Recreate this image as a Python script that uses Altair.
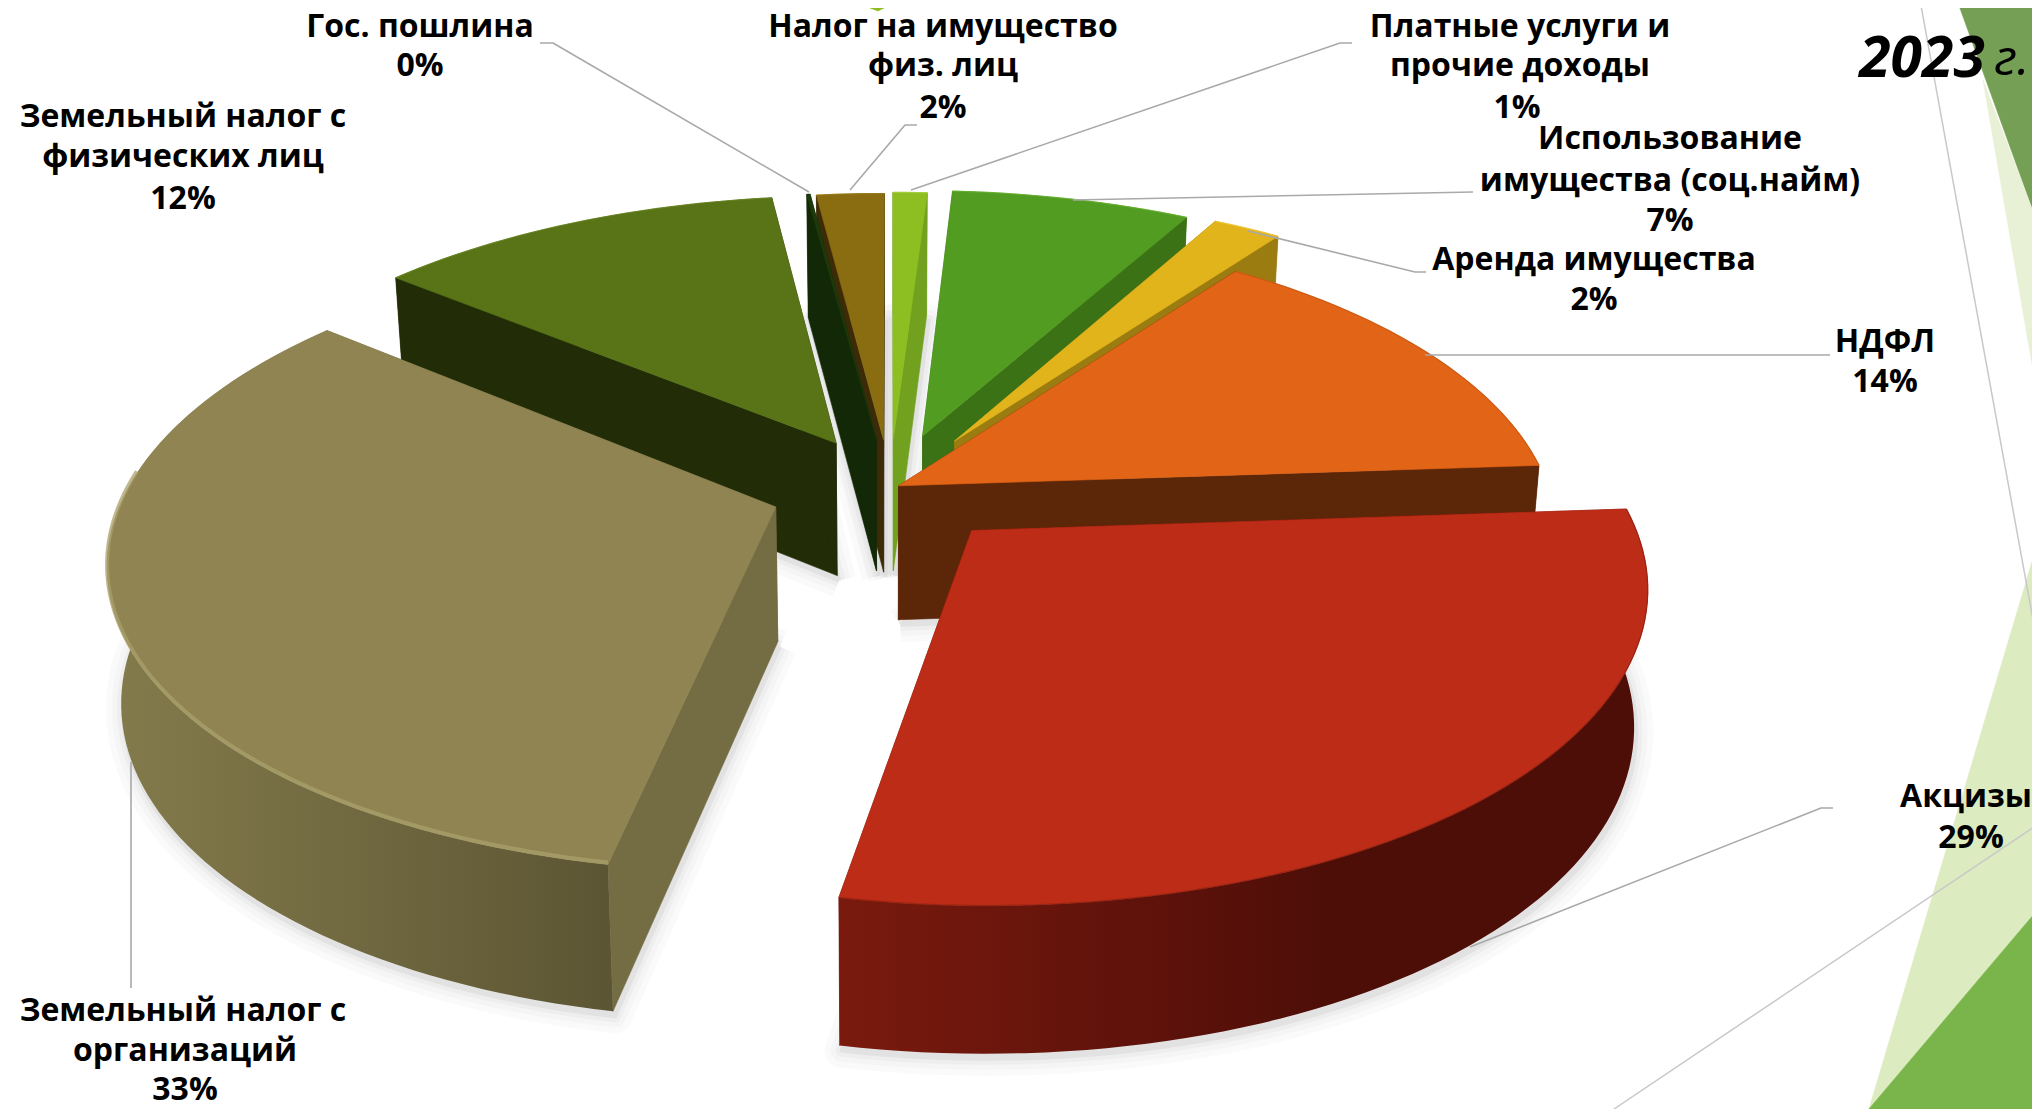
import math
import altair as alt
import pandas as pd

# ---------- chart values (clockwise from the top of the pie) ----------
categories = ["Платные услуги и прочие доходы", "Использование имущества (соц.найм)", "Аренда имущества",
              "НДФЛ", "Акцизы", "Земельный налог с организаций", "Земельный налог с физических лиц",
              "Гос. пошлина", "Налог на имущество физ. лиц"]
values = [1.0, 7, 2, 13.9, 29.1, 32.97, 11.95, 0.1, 1.98]
explode = [0.17, 0.185, 0.19, 0.015, 0.185, 0.185, 0.175, 0.17, 0.165]
top_colors = ["#8dbf22", "#529c22", "#e2b41b", "#e26417", "#bd2c16", "#8f8452", "#597317", "#1d3a0b", "#8a6d10"]
wall_colors = ["#72a11f", "#3a7215", "#9a7c10", "#5c2608", "#6a1509", "#746c43", "#222d08", "#132807", "#3d2a07"]
rim_left = ["#72a11f", "#3a7215", "#9a7c10", "#5c2608", "#7a1a0e", "#847b4c", "#222d08", "#132807", "#3d2a07"]
rim_right = ["#72a11f", "#3a7215", "#9a7c10", "#5c2608", "#4e0e08", "#5c5533", "#222d08", "#132807", "#3d2a07"]
bevel_colors = ["#a5d23c", "#65b02e", "#f0c838", "#c85a14", "#8e2010", "#aaa06c", "#6a8622", "#1d3a0b", "#9a7c18"]

# ---------- text ----------
label_text = ["Гос. пошлина", "0%",
              "Налог на имущество", "физ. лиц", "2%",
              "Платные услуги и", "прочие доходы", "1%",
              "Использование", "имущества (соц.найм)", "7%",
              "Аренда имущества", "2%",
              "НДФЛ", "14%",
              "Акцизы", "29%",
              "Земельный налог с", "организаций", "33%",
              "Земельный налог с", "физических лиц", "12%"]
label_x = [420, 420, 943, 943, 943, 1520, 1520, 1517, 1670, 1670, 1670, 1594, 1594,
           1885, 1885, 1966, 1971, 183, 185, 185, 183, 183, 183]
label_y = [27, 66, 27, 66, 108, 27, 66, 108, 139, 181, 221, 260, 300, 342, 382, 797, 838,
           1011, 1051, 1090, 117, 157, 199]

leaders = [[(809, 192), (553, 43), (540, 43)],
           [(850, 190), (905, 125), (917, 125)],
           [(911, 190), (1340, 43), (1352, 43)],
           [(1073, 200), (1473, 192)],
           [(1248, 231), (1415, 272), (1426, 272)],
           [(1425, 355), (1830, 355)],
           [(1470, 947), (1821, 808), (1833, 808)],
           [(131, 762), (131, 988)]]

backdrop = [("#759f55", [(1957, 0), (2040, 230), (2040, 0)]),
            ("#e8f0d5", [(1983, 80), (2040, 410), (2040, 230)]),
            ("#dcebc0", [(2040, 535), (1869, 1109), (2040, 1109)]),
            ("#7ab54c", [(2040, 907), (1869, 1109), (2040, 1109)]),
            ("#8fbd1f", [(870, 8), (884, 8), (878, 11)])]
backdrop_lines = [[(1920, 0), (2040, 658)], [(2040, 823), (1614, 1109)]]

# ---------- perspective set-up of the pie ----------
CX, CY, AX, BY, K, DEPTH, BOTTOM_SHRINK = 890.0, 488.0, 650.0, 300.0, 0.16, 134.0, 0.982
W, H = 2024, 1101


def proj(u, v, drop=False):
    w = 1 + K * v
    x = CX + AX * u / w
    y = CY - BY * v / w
    if drop:
        y += DEPTH / math.sqrt(w)
        x = CX + (x - CX) * BOTTOM_SHRINK
    return x, y


def wedge(start, end, e):
    mid = math.radians((start + end) / 2)
    u0, v0 = e * math.sin(mid), e * math.cos(mid)
    n = max(4, int(abs(end - start) / 1.5))
    ang = [math.radians(start + (end - start) * i / n) for i in range(n + 1)]
    rim = [(u0 + math.sin(a), v0 + math.cos(a)) for a in ang]
    return (u0, v0), rim


x_scale = alt.Scale(domain=[8, 8 + W], nice=False, zero=False)
y_scale = alt.Scale(domain=[8 + H, 8], nice=False, zero=False)
NOAX = None


def enc(ch):
    return ch.encode(
        x=alt.X("x:Q", scale=x_scale, axis=NOAX),
        y=alt.Y("y:Q", scale=y_scale, axis=NOAX),
        order=alt.Order("i:Q"),
    )


def frame(pts):
    return pd.DataFrame({"x": [p[0] for p in pts], "y": [p[1] for p in pts], "i": list(range(len(pts)))})


def poly(pts, fill, opacity=1.0, sw=0.6, stroke=None):
    return enc(alt.Chart(frame(list(pts) + [pts[0]])).mark_line(
        fill=fill, stroke=stroke or (fill if isinstance(fill, str) else "#00000000"),
        strokeWidth=sw, opacity=opacity, clip=True, interpolate="linear", strokeJoin="round"))


def line(pts, color, sw=1.4, opacity=1.0):
    return enc(alt.Chart(frame(pts)).mark_line(stroke=color, strokeWidth=sw, opacity=opacity, clip=True,
                                               strokeJoin="round"))


layers = []
for col, pts in backdrop:
    layers.append(poly(pts, col))
for pts in backdrop_lines:
    layers.append(line(pts, "#c8c8c8", 1.5))

# slice geometry from the values
total = sum(values)
edges = [0.0]
for val in values:
    edges.append(edges[-1] + val / total * 360)
geom = [wedge(edges[i], edges[i + 1], explode[i]) for i in range(len(values))]

# soft shadow
for sw, op in [(34, 0.10), (22, 0.14), (12, 0.22), (4, 0.5)]:
    for i in range(len(values)):
        apex, rim = geom[i]
        pts = [proj(*apex, drop=True)] + [proj(*p, drop=True) for p in rim]
        pts = [(x + 2, y + 5) for x, y in pts]
        layers.append(poly(pts, "#d8d8d8", opacity=op, sw=sw, stroke="#d8d8d8"))


def draw_body(i):
    apex, rim = geom[i]
    top = [proj(*p) for p in rim]
    bot = [proj(*p, drop=True) for p in rim]
    a_t, a_b = proj(*apex), proj(*apex, drop=True)
    last = 1 if i == 5 else 0.6
    grad = alt.Gradient(gradient="linear", x1=0, x2=1, y1=0, y2=0,
                        stops=[alt.GradientStop(color=rim_left[i], offset=0),
                               alt.GradientStop(color=rim_right[i], offset=last),
                               alt.GradientStop(color=rim_right[i], offset=1)])
    for end_t, end_b in [(top[0], bot[0]), (top[-1], bot[-1])]:
        layers.append(poly([a_t, end_t, end_b, a_b], wall_colors[i]))
    layers.append(poly(top + bot[::-1], grad, sw=0))


def draw_top(i):
    apex, rim = geom[i]
    top = [proj(*p) for p in rim]
    layers.append(poly([proj(*apex)] + top, top_colors[i]))
    if i == 5:  # highlight on the front rim of the largest slice only
        front = [(x, y - 2) for x, y in [proj(p[0], p[1]) for p in rim if p[1] < 0.05]]
        layers.append(line(front, bevel_colors[i], sw=4, opacity=0.75))
    else:
        layers.append(line(top, bevel_colors[i], sw=1.2, opacity=0.8))


# slices, back to front
draw_body(0)
draw_top(0)
draw_body(8)
draw_body(7)
draw_top(7)
draw_top(8)
for i in [1, 2, 6, 3, 5, 4]:
    draw_body(i)
    draw_top(i)

for pts in leaders:
    layers.append(line(pts, "#a9a9a9", 1.6))

labels = pd.DataFrame({"t": label_text, "x": label_x, "y": label_y})
text_layer = alt.Chart(labels).mark_text(font="Open Sans", fontWeight=700, fontSize=32, color="#000000",
                                         align="center", baseline="middle").encode(
    x=alt.X("x:Q", scale=x_scale, axis=NOAX), y=alt.Y("y:Q", scale=y_scale, axis=NOAX), text="t:N")
layers.append(text_layer)

year = pd.DataFrame({"t": ["2023", "г."], "x": [1922, 2012], "y": [60, 60], "w": [700, 400], "s": [57, 50]})
for _, r in year.iterrows():
    layers.append(alt.Chart(year[year.t == r.t]).mark_text(
        font="Open Sans", fontWeight=int(r.w), fontStyle="italic", fontSize=int(r.s), color="#000000",
        align="center", baseline="middle").encode(
        x=alt.X("x:Q", scale=x_scale, axis=NOAX), y=alt.Y("y:Q", scale=y_scale, axis=NOAX), text="t:N"))

chart = alt.layer(*layers).properties(width=W, height=H, padding=0, background="#ffffff",
                                      autosize=alt.AutoSizeParams(type="none")).configure_view(stroke=None)
chart.save("out.html", embed_options={"renderer": "svg", "actions": False})
